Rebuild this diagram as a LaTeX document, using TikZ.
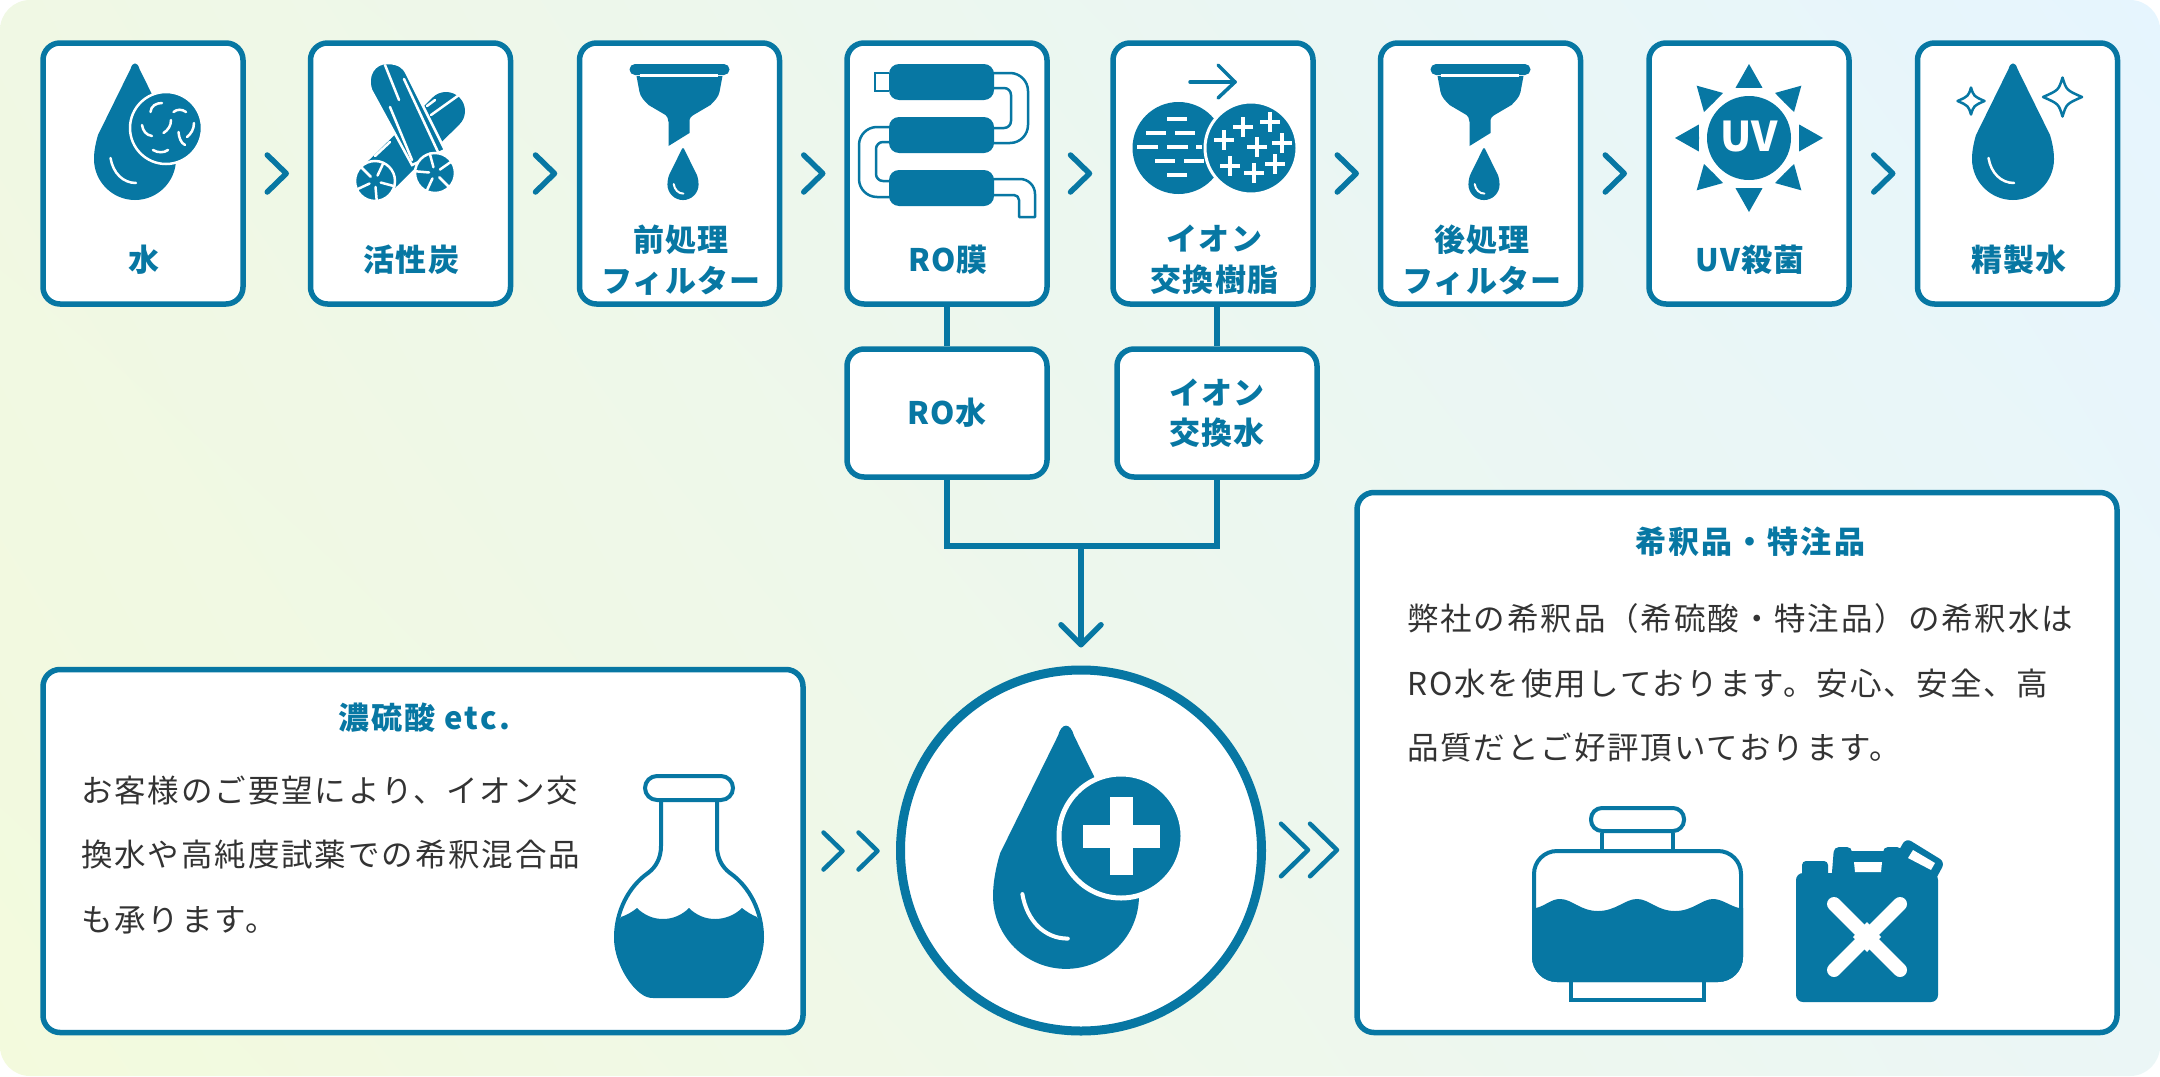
\documentclass[tikz,border=0pt]{standalone}
\usepackage{fontspec}
\setmainfont{Noto Sans CJK JP}
\newfontfamily\labelfont[LetterSpace=4]{Noto Sans CJK JP}
\newfontfamily\titlefont[LetterSpace=7]{Noto Sans CJK JP}
\newfontfamily\bodyfont[LetterSpace=6]{Noto Sans CJK JP}
\usetikzlibrary{arrows.meta,calc,shadings}

\definecolor{mainblue}{HTML}{0777A3}
\definecolor{bodygray}{HTML}{333333}
\definecolor{backul}{RGB}{240,248,228}
\definecolor{backur}{RGB}{230,245,254}
\definecolor{backll}{RGB}{243,250,221}
\definecolor{backlr}{RGB}{235,246,246}

\tikzset{
    stepbox/.style={draw=mainblue, fill=white, line width=5.5pt, rounded corners=17pt, minimum width=200pt, minimum height=261pt, inner sep=0pt},
    subbox/.style={stepbox, minimum height=128pt, align=center, text=mainblue, font=\labelfont\bfseries\fontsize{31}{40}\selectfont},
    panelbox/.style={stepbox},
    steplabel/.style={inner sep=0pt, align=center, text=mainblue, font=\labelfont\bfseries\fontsize{31}{41}\selectfont},
    paneltitle/.style={inner sep=0pt, text=mainblue, font=\titlefont\bfseries\fontsize{31}{36}\selectfont},
    paneltext/.style={inner sep=0pt, anchor=west, align=left, text=bodygray, font=\bodyfont\fontsize{31.5}{64.5}\selectfont},
    linkline/.style={draw=mainblue, line width=5.5pt},
    outline/.style={draw=mainblue, line width=4pt},
    cutline/.style={draw=white, line width=2.5pt, line cap=round},
    ionmark/.style={draw=white, line width=3.2pt},
    chevron/.pic={
        \draw[mainblue, line width=#1pt, line cap=round, line join=round] (-9.5,-18.5) -- (9.5,0) -- (-9.5,18.5);
    },
    dropicon/.pic={
        \fill[mainblue] (-4.5,6) .. controls (-2.5,-1.5) and (2.5,-1.5) .. (4.5,6) -- (37,72) .. controls (40,82) and (41,90) .. (41,96)
            .. controls (41,118.6) and (22.6,137) .. (0,137) .. controls (-22.6,137) and (-41,118.6) .. (-41,96)
            .. controls (-41,90) and (-40,82) .. (-37,72) -- cycle;
        \draw[white, line cap=round, line width=#1pt] (-24.5,95) .. controls (-22,110) and (-12,120) .. (1,120);
    },
    funnelicon/.pic={
        \fill[mainblue, rounded corners=5.5pt] (-50,0) rectangle (50,11);
        \fill[mainblue] (-43,12) -- (-40,28) .. controls (-39,33) and (-35,37) .. (-31,41) -- (-14,51) .. controls (-12,53) .. (-11,58)
            -- (-11,82) -- (10,69) -- (10,58) .. controls (10,54) and (11,53) .. (14,51) -- (31,41) .. controls (35,37) and (39,33) .. (40,28) -- (43,12) -- cycle;
        \draw[white, line width=3pt] (-40,11) -- (38,11);
        \pic[scale=0.38] at (3.5,84) {dropicon=2};
    },
    sparkle/.pic={
        \draw[mainblue, line width=2.5pt, line join=round] (0,-1) .. controls (0.2,-0.35) .. (1,0) .. controls (0.2,0.35) .. (0,1) .. controls (-0.2,0.35) .. (-1,0) .. controls (-0.2,-0.35) .. cycle;
    }
}

\begin{document}
\begin{tikzpicture}[x=1pt, y=-1pt]
    \useasboundingbox (0,0) rectangle (2160,1076);

    \shade[rounded corners=30pt, upper left=backul, upper right=backur, lower left=backll, lower right=backlr] (0,0) rectangle (2160,1076);

    \node[stepbox] (waterbox) at (143,173.5) {};
    \node[stepbox] (carbonbox) at (410.5,173.5) {};
    \node[stepbox] (prefilter) at (679.5,173.5) {};
    \node[stepbox] (rombox) at (947,173.5) {};
    \node[stepbox] (ionbox) at (1213,173.5) {};
    \node[stepbox] (postfilter) at (1480.5,173.5) {};
    \node[stepbox] (uvbox) at (1749,173.5) {};
    \node[stepbox] (purebox) at (2017.5,173.5) {};

    \node[steplabel] (waterlabel) at (144,260) {水};
    \node[steplabel] (carbonlabel) at (411.5,260) {活性炭};
    \node[steplabel] (prelabel) at (681,260) {前処理\\フィルター};
    \node[steplabel] (romlabel) at (948,260) {RO膜};
    \node[steplabel] (ionlabel) at (1214.5,260) {イオン\\交換樹脂};
    \node[steplabel] (postlabel) at (1482,260) {後処理\\フィルター};
    \node[steplabel] (uvlabel) at (1750,260) {UV殺菌};
    \node[steplabel] (purelabel) at (2019,260) {精製水};

    \pic at ($(waterbox)!0.5!(carbonbox)$) {chevron=5.5};
    \pic at ($(carbonbox)!0.5!(prefilter)$) {chevron=5.5};
    \pic at ($(prefilter)!0.5!(rombox)$) {chevron=5.5};
    \pic at ($(rombox)!0.5!(ionbox)$) {chevron=5.5};
    \pic at ($(ionbox)!0.5!(postfilter)$) {chevron=5.5};
    \pic at ($(postfilter)!0.5!(uvbox)$) {chevron=5.5};
    \pic at ($(uvbox)!0.5!(purebox)$) {chevron=5.5};

    \node[subbox] (rowater) at (947,413) {RO水};
    \node[subbox] (ionwater) at (1217,413) {イオン\\交換水};
    \node[draw=mainblue, fill=white, line width=9pt, circle, minimum size=361pt, inner sep=0pt] (mixer) at (1081,850.5) {};
    \coordinate (junction) at (1081,546);

    \draw[linkline] (rombox.south -| rowater.north) -- (rowater.north);
    \draw[linkline] (ionbox.south -| ionwater.north) -- (ionwater.north);
    \draw[linkline] (rowater.south) |- (junction) -| (ionwater.south);
    \draw[linkline, line cap=round, -{Straight Barb[length=20pt, width=40pt, line width=5.5pt, round]}, shorten >=18pt] (junction) -- (mixer.north);

    \node[panelbox, minimum width=760pt, minimum height=363pt] (acidpanel) at (423,851) {};
    \node[panelbox, minimum width=760pt, minimum height=540pt] (dilutepanel) at (1737,762.5) {};

    \node[paneltitle] (acidtitle) at (424,718) {濃硫酸 etc.};
    \node[paneltitle] (dilutetitle) at (1750,542) {希釈品・特注品};
    \node[paneltext] (acidtext) at (81,855) {お客様のご要望により、イオン交\\換水や高純度試薬での希釈混合品\\も承ります。};
    \node[paneltext] (dilutetext) at (1407,683) {弊社の希釈品（希硫酸・特注品）の希釈水は\\RO水を使用しております。安心、安全、高\\品質だとご好評頂いております。};

    \pic at (833,851) {chevron=4.5};
    \pic at (868,851) {chevron=4.5};
    \pic[scale=1.42] at (1294.5,850) {chevron=4.5};
    \pic[scale=1.42] at (1323.5,850) {chevron=4.5};

    \pic at (135,63) {dropicon=2.5};
    \filldraw[fill=mainblue, cutline] (166,128) circle (36);
    \draw[cutline] (150.5,112) .. controls (151,106) and (156,103) .. (162,103);
    \draw[cutline] (173.5,112) .. controls (177,109) and (182,109) .. (186,112);
    \draw[cutline] (163.5,133) .. controls (168,130) and (171,126) .. (171,120);
    \draw[cutline] (142,125) .. controls (143,131) and (146,135) .. (152,136);
    \draw[cutline] (178.5,132) .. controls (179,138) and (181,143) .. (185,145);
    \draw[cutline] (187,137) .. controls (191,134) and (194,129) .. (194,123);
    \draw[cutline] (153,150) .. controls (158,153) and (164,153) .. (168,150);

    \draw[mainblue, line width=38pt, line cap=round] (375,181) -- (446,111);
    \draw[cutline] (431,115) -- (459,95);
    \draw[cutline] (427,106) -- (435,100);
    \draw[cutline] (375,156) -- (390,142);
    \filldraw[fill=mainblue, cutline] (412,165) -- (371,90) .. controls (366,76) and (374,62) .. (388,63) .. controls (399,63) and (404,68) .. (406,72) -- (445,150) -- cycle;
    \draw[cutline] (385,65) -- (399,100);
    \draw[cutline] (390,107) -- (412,160);
    \draw[cutline] (404,79) -- (438,152);
    \filldraw[fill=mainblue, cutline] (375,181) circle (20);
    \filldraw[fill=mainblue, cutline] (435,173) circle (20);
    \foreach \a in {15,85,155,225,295} {
        \draw[cutline] ($(375,181)+(\a:6)$) -- ($(375,181)+(\a:20)$);
        \draw[cutline] ($(435,173)+(\a+30:6)$) -- ($(435,173)+(\a+30:20)$);
    }

    \pic at (679.5,64) {funnelicon};
    \pic at (1480.5,64) {funnelicon};

    \draw[mainblue, line width=2.5pt, rounded corners=18pt] (990,73) -- (1028,73) -- (1028,143) -- (990,143);
    \draw[mainblue, line width=2.5pt, rounded corners=7pt] (990,88) -- (1011,88) -- (1011,128) -- (990,128);
    \draw[mainblue, line width=2.5pt, rounded corners=18pt] (895,127) -- (859,127) -- (859,197) -- (895,197);
    \draw[mainblue, line width=2.5pt, rounded corners=7pt] (895,142) -- (876,142) -- (876,181) -- (895,181);
    \draw[mainblue, line width=2.5pt, line join=round, rounded corners=15pt] (990,179) -- (1035,179) [sharp corners] -- (1035,217) -- (1019,217) [rounded corners=5pt] -- (1019,195) -- (990,195);
    \draw[mainblue, line width=2.5pt] (889,73) -- (875,73) -- (875,91) -- (889,91);
    \fill[mainblue, rounded corners=10pt] (889,64) rectangle (994,100);
    \fill[mainblue, rounded corners=10pt] (889,117) rectangle (994,153);
    \fill[mainblue, rounded corners=10pt] (889,170) rectangle (994,206);

    \draw[mainblue, line width=3.5pt, line cap=round, line join=round] (1190,82) -- (1235,82);
    \draw[mainblue, line width=3.5pt, line cap=round, line join=round] (1218,65) -- (1235,82) -- (1218,98);
    \fill[mainblue] (1178.5,148) circle (46);
    \draw[ionmark] (1167,119) -- (1187,119);
    \draw[ionmark] (1146,133) -- (1166,133);
    \draw[ionmark] (1175,133) -- (1195,133);
    \draw[ionmark] (1137,147) -- (1158,147);
    \draw[ionmark] (1167,147) -- (1188,147);
    \draw[ionmark] (1196,147) -- (1202,147);
    \draw[ionmark] (1155,161) -- (1175,161);
    \draw[ionmark] (1184,161) -- (1204,161);
    \draw[ionmark] (1167,175) -- (1187,175);
    \filldraw[fill=mainblue, draw=white, line width=3pt] (1251,148) circle (46);
    \draw[ionmark] (1233,127) -- (1253,127);
    \draw[ionmark] (1243,117) -- (1243,137);
    \draw[ionmark] (1260,122) -- (1280,122);
    \draw[ionmark] (1270,112) -- (1270,132);
    \draw[ionmark] (1214,140) -- (1234,140);
    \draw[ionmark] (1224,130) -- (1224,150);
    \draw[ionmark] (1272,143) -- (1292,143);
    \draw[ionmark] (1282,133) -- (1282,153);
    \draw[ionmark] (1247,147) -- (1267,147);
    \draw[ionmark] (1257,137) -- (1257,157);
    \draw[ionmark] (1265,164) -- (1285,164);
    \draw[ionmark] (1275,154) -- (1275,174);
    \draw[ionmark] (1220,166) -- (1240,166);
    \draw[ionmark] (1230,156) -- (1230,176);
    \draw[ionmark] (1244,173) -- (1264,173);
    \draw[ionmark] (1254,163) -- (1254,183);

    \fill[mainblue] (1749,138) circle (42);
    \foreach \a in {0,45,...,315} {
        \fill[mainblue] ($(1749,138)+(\a:74)$) -- ($(1749,138)+(\a+15:52)$) -- ($(1749,138)+(\a:50)$) -- ($(1749,138)+(\a-15:52)$) -- cycle;
    }
    \node[inner sep=0pt, text=white, font=\bfseries\fontsize{41}{41}\selectfont] (uvmark) at (1749,137) {UV};

    \pic at (2013,63) {dropicon=2.5};
    \pic[scale=19.5] at (2062.5,97) {sparkle};
    \pic[scale=13.5] at (1971,101) {sparkle};

    \pic[scale=1.78] at (1066,725) {dropicon=4};
    \filldraw[fill=mainblue, draw=white, line width=5pt] (1121,836) circle (62);
    \fill[white] (1082.5,824.5) rectangle (1160,847.5);
    \fill[white] (1109.5,797) rectangle (1132.5,875);

    \draw[outline, rounded corners=12pt] (645,776) rectangle (733,800);
    \draw[outline] (661,802) -- (661,846) .. controls (661,858) and (656,867) .. (648,873) .. controls (628,887) and (616,912) .. (616,937);
    \draw[outline] (717,802) -- (717,846) .. controls (717,858) and (722,867) .. (730,873) .. controls (750,887) and (762,912) .. (762,937);
    \fill[mainblue] (621,917) .. controls (627,915) and (632,912) .. (637,908) .. controls (644,915) and (653,919) .. (663,919)
        .. controls (673,919) and (682,915) .. (689,908) .. controls (696,915) and (705,919) .. (715,919)
        .. controls (725,919) and (735,915) .. (742,908) .. controls (747,912) and (752,915) .. (757,917)
        .. controls (761,923) and (764,930) .. (764,938) .. controls (764,958) and (752,982) .. (738,993)
        .. controls (733,997) and (729,998) .. (725,998) -- (653,998) .. controls (649,998) and (645,997) .. (640,993)
        .. controls (626,982) and (614,958) .. (614,938) .. controls (614,930) and (617,923) .. (621,917) -- cycle;

    \draw[outline, rounded corners=11pt] (1591,808) rectangle (1684,831);
    \draw[outline] (1602,833) -- (1602,851);
    \draw[outline] (1673,833) -- (1673,851);
    \draw[outline, rounded corners=23pt] (1534,851) rectangle (1741,980);
    \draw[outline] (1571,980) rectangle (1704,1000);
    \fill[mainblue] (1536,908) .. controls (1545,906) and (1551,899) .. (1560,899) .. controls (1572,899) and (1580,911) .. (1598,911)
        .. controls (1616,911) and (1625,899) .. (1637,899) .. controls (1649,899) and (1657,911) .. (1675,911)
        .. controls (1693,911) and (1702,899) .. (1713,899) .. controls (1722,899) and (1730,906) .. (1739,908)
        -- (1743,908) [rounded corners=25pt] -- (1743,982) -- (1532,982) [sharp corners] -- (1532,908) -- cycle;

    \fill[mainblue, rounded corners=7pt] (1796,873) rectangle (1938,1002);
    \fill[mainblue, rounded corners=4pt] (1802,861) rectangle (1828,885);
    \fill[mainblue, rounded corners=5pt] (1831,885) -- (1834,847) -- (1852,847) -- (1852,885) -- cycle;
    \fill[mainblue] (1850,851) rectangle (1885,885);
    \fill[mainblue, rounded corners=5pt] (1883,885) -- (1883,847) -- (1902,847) -- (1905,885) -- cycle;
    \fill[mainblue, rounded corners=6pt] (1906,838) -- (1945,862) -- (1930,890) -- (1890,866) -- cycle;
    \fill[white] (1913,850) -- (1935,863) -- (1931,870) -- (1908,858) -- cycle;
    \fill[white] (1854,862) -- (1882,862) -- (1881,872) -- (1855,872) -- cycle;
    \draw[white, line width=14pt, line cap=round] (1834,904) -- (1900,970);
    \draw[white, line width=14pt, line cap=round] (1900,904) -- (1834,970);
    \fill[white] (1867,922) -- (1853,937) -- (1867,952) -- (1881,937) -- cycle;
\end{tikzpicture}
\end{document}
